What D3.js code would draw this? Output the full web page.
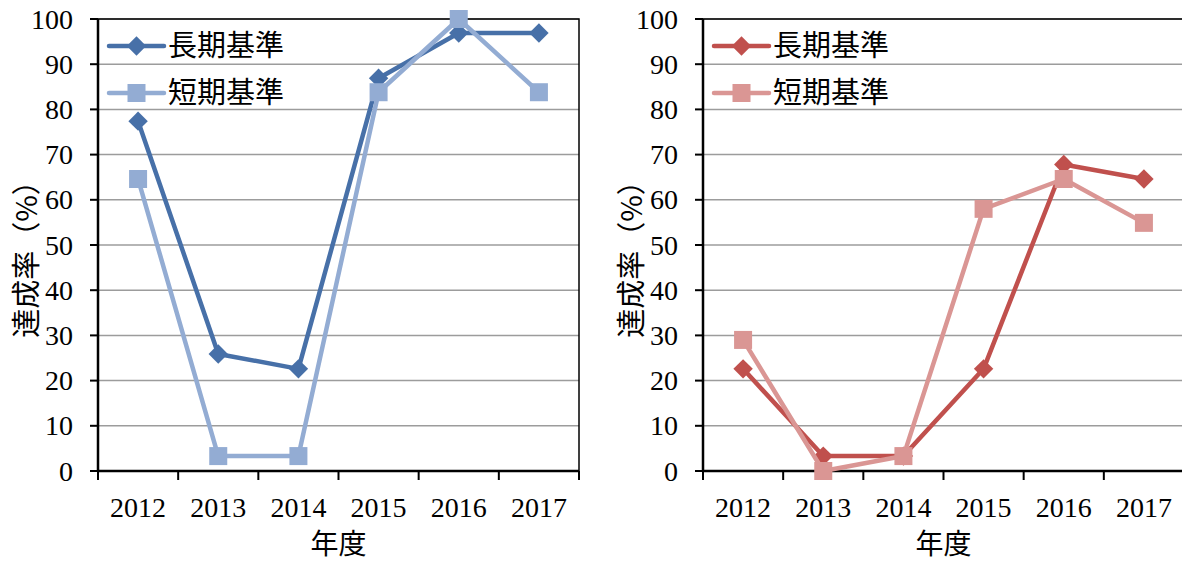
<!DOCTYPE html>
<html>
<head>
<meta charset="utf-8">
<script src="https://cdn.jsdelivr.net/npm/d3@7"></script>
<style>
  body { margin: 0; background: #fff; }
</style>
</head>
<body>
<svg id="chart" width="1182" height="564"></svg>
<script>
// data
var years = ["2012", "2013", "2014", "2015", "2016", "2017"];
var yTicks = [0, 10, 20, 30, 40, 50, 60, 70, 80, 90, 100];
var seriesNames = ["長期基準", "短期基準"];

var leftLong  = [77.4, 25.9, 22.6, 86.9, 96.9, 96.9];
var leftShort = [64.6, 3.3, 3.3, 83.8, 100, 83.8];
var rightLong  = [22.6, 3.3, 3.3, 22.6, 67.8, 64.6];
var rightShort = [29.0, 0, 3.3, 58.0, 64.6, 54.9];

var panels = [
  { left: 98,  series: [leftLong, leftShort],  colors: ["#4770a8", "#93acd3"] },
  { left: 703, series: [rightLong, rightShort], colors: ["#c0504d", "#da9694"] }
];

var numFont = "'Liberation Serif', 'Times New Roman', serif";
var jpFont = "'Noto Sans CJK JP', sans-serif";

var svg = d3.select("#chart");
var plotTop = 19, plotBottom = 471, plotWidth = 481;

var y = d3.scaleLinear().domain([0, 100]).range([plotBottom, plotTop]);

panels.forEach(function(p) {
  var g = svg.append("g");
  var x = d3.scaleBand().domain(years).range([p.left, p.left + plotWidth]);
  var cx = function(d, i) { return x(years[i]) + x.bandwidth() / 2; };

  // gridlines
  g.selectAll("line.grid")
    .data(yTicks.filter(function(t) { return t > 0; }))
    .enter().append("line")
    .attr("x1", p.left).attr("x2", p.left + plotWidth)
    .attr("y1", d => y(d)).attr("y2", d => y(d))
    .style("stroke", "#9c9c9c").style("stroke-width", 1.5);

  // plot frame
  g.append("rect")
    .attr("x", p.left).attr("y", plotTop)
    .attr("width", plotWidth).attr("height", plotBottom - plotTop)
    .style("fill", "none").style("stroke", "#000").style("stroke-width", 1.5);
  g.append("line")
    .attr("x1", p.left).attr("x2", p.left)
    .attr("y1", plotTop).attr("y2", plotBottom)
    .style("stroke", "#000").style("stroke-width", 2.5);
  g.append("line")
    .attr("x1", p.left).attr("x2", p.left + plotWidth)
    .attr("y1", plotBottom).attr("y2", plotBottom)
    .style("stroke", "#000").style("stroke-width", 2.5);

  // y ticks + labels
  g.selectAll("line.yt").data(yTicks).enter().append("line")
    .attr("x1", p.left - 8).attr("x2", p.left)
    .attr("y1", d => y(d)).attr("y2", d => y(d))
    .style("stroke", "#000").style("stroke-width", 2);
  g.selectAll("text.yl").data(yTicks).enter().append("text")
    .attr("x", p.left - 25).attr("y", d => y(d)).attr("dy", "0.34em")
    .attr("text-anchor", "end")
    .style("font-family", numFont).style("font-size", "28px")
    .text(d => d);

  // x ticks at category boundaries
  var bounds = years.map(d => x(d)).concat([p.left + plotWidth]);
  g.selectAll("line.xt").data(bounds).enter().append("line")
    .attr("x1", d => d).attr("x2", d => d)
    .attr("y1", plotBottom).attr("y2", plotBottom + 9)
    .style("stroke", "#000").style("stroke-width", 2);
  g.selectAll("text.xl").data(years).enter().append("text")
    .attr("x", d => x(d) + x.bandwidth() / 2).attr("y", 517)
    .attr("text-anchor", "middle")
    .style("font-family", numFont).style("font-size", "28px")
    .text(d => d);

  // axis titles
  g.append("text")
    .attr("x", p.left + plotWidth / 2).attr("y", 554)
    .attr("text-anchor", "middle")
    .style("font-family", jpFont).style("font-size", "28px")
    .text("年度");
  g.append("text")
    .attr("transform", "translate(" + (p.left - 61) + "," + 252 + ") rotate(-90)")
    .attr("text-anchor", "middle")
    .style("font-family", jpFont).style("font-size", "29px")
    .text("達成率（%）");

  var line = d3.line().x(cx).y(d => y(d));

  [0, 1].forEach(function(si) {
    var vals = p.series[si];
    var col = p.colors[si];
    g.append("path").datum(vals)
      .attr("d", line)
      .style("fill", "none").style("stroke", col)
      .style("stroke-width", 4.5).style("stroke-linejoin", "round");
    if (si === 0) {
      g.selectAll("path.dm" + si).data(vals).enter().append("path")
        .attr("d", d3.symbol().type(d3.symbolDiamond2).size(240))
        .attr("transform", (d, i) => "translate(" + cx(d, i) + "," + y(d) + ")")
        .style("fill", col);
    } else {
      g.selectAll("rect.sq" + si).data(vals).enter().append("rect")
        .attr("x", (d, i) => cx(d, i) - 9).attr("y", d => y(d) - 9)
        .attr("width", 18).attr("height", 18)
        .style("fill", col);
    }
  });

  // legend
  var legY = [46, 93];
  seriesNames.forEach(function(name, si) {
    var col = p.colors[si];
    var lx = p.left + 11;
    g.append("line")
      .attr("x1", lx).attr("x2", lx + 55)
      .attr("y1", legY[si]).attr("y2", legY[si])
      .style("stroke", col).style("stroke-width", 4.5).style("stroke-linecap", "round");
    if (si === 0) {
      g.append("path")
        .attr("d", d3.symbol().type(d3.symbolDiamond2).size(240))
        .attr("transform", "translate(" + (lx + 27.5) + "," + legY[si] + ")")
        .style("fill", col);
    } else {
      g.append("rect")
        .attr("x", lx + 27.5 - 9).attr("y", legY[si] - 9)
        .attr("width", 18).attr("height", 18).style("fill", col);
    }
    g.append("text")
      .attr("x", lx + 59).attr("y", legY[si]).attr("dy", "0.36em")
      .style("font-family", jpFont).style("font-size", "29px")
      .text(name);
  });
});
</script>
</body>
</html>
